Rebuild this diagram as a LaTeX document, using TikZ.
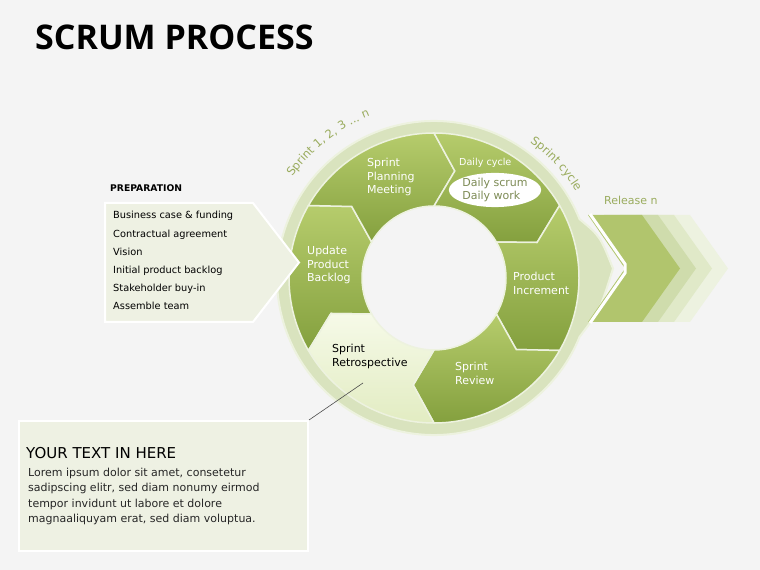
\documentclass[tikz,border=0pt]{standalone}
\usepackage{fontspec}
\setmainfont{DejaVu Sans}
\newfontfamily\titlefont{Open Sans}
\usetikzlibrary{positioning,shapes.geometric,decorations.text}

\definecolor{bgGray}{HTML}{F4F4F4}
\definecolor{ringLight}{HTML}{D9E3BE}
\definecolor{ringRim}{HTML}{EDF2DF}
\definecolor{segTop}{HTML}{B6CC6C}
\definecolor{segBot}{HTML}{84A03E}
\definecolor{retroTop}{HTML}{F6FAE8}
\definecolor{retroBot}{HTML}{E2ECC2}
\definecolor{boxFill}{HTML}{EEF1E3}
\definecolor{oliveText}{HTML}{9AAC5E}
\definecolor{dailyText}{HTML}{7D8B55}
\definecolor{chevA}{HTML}{B1C56D}
\definecolor{chevB}{HTML}{CFDCAC}
\definecolor{chevC}{HTML}{E0E9C8}
\definecolor{chevD}{HTML}{EDF2E0}

\tikzset{
  seg/.style={draw=ringRim, line width=1.5pt, top color=segTop, bottom color=segBot},
  seglabel/.style={text=white, align=left, anchor=west, inner sep=0pt, font=\fontsize{11}{13.5}\selectfont},
  prepitem/.style={anchor=west, inner sep=0pt, font=\fontsize{9.8}{12}\selectfont},
  arctext/.style={decorate, decoration={text along path, text align=center, text={|\fontsize{11.5}{13}\selectfont\color{oliveText}|#1}}}
}

\begin{document}
\begin{tikzpicture}[x=1pt,y=1pt]
  \useasboundingbox (0,0) rectangle (760,570);
  \fill[bgGray] (0,0) rectangle (760,570);

  \node[anchor=base west, inner sep=0pt, font=\titlefont\bfseries\fontsize{34}{40}\selectfont] (title) at (35,520) {SCRUM PROCESS};

  \begin{scope}[shift={(434,292)}]
    \draw[ringRim, line width=2pt, fill=ringLight] (22:157) arc[start angle=22, end angle=338, radius=157]
      .. controls (166,-32) .. (179,9.5) .. controls (166,42) .. cycle;
    \fill[bgGray] (0,0) circle[radius=72];
    \foreach \a in {210,150,90,30,-30}
      \path[seg] (\a:145) arc[start angle=\a, end angle=\a-60, radius=145] -- ({\a-71}:109)
        -- ({\a-60}:72) arc[start angle=\a-60, end angle=\a, radius=72] -- ({\a-11}:109) -- cycle;
    \path[seg, top color=retroTop, bottom color=retroBot] (-90:145) arc[start angle=-90, end angle=-150, radius=145]
      -- (-161:109) -- (-150:72) arc[start angle=-150, end angle=-90, radius=72] -- (-101:109) -- cycle;
    \path[arctext={Sprint 1, 2, 3 ... n}] (152:174) arc[start angle=152, end angle=104, radius=174];
    \path[arctext={Sprint cycle}] (62:166) arc[start angle=62, end angle=24, radius=166];
  \end{scope}

  \foreach \dx/\col in {48/chevD,32/chevC,16/chevB,0/chevA}
    \fill[\col, xshift=\dx] (588,355) -- (642,355) -- (680,301.5) -- (642,248) -- (588,248) -- (625,301.5) -- cycle;
  \draw[white, line width=3pt] (590,356) -- (625,306) -- (625,297) -- (590,247);
  \node[anchor=west, inner sep=0pt, text=oliveText, font=\fontsize{11}{13}\selectfont] (release) at (604,370) {Release n};

  \draw[white, line width=2pt, fill=boxFill] (105,367) -- (253,367) -- (299,307.5) -- (253,248) -- (105,248) -- cycle;
  \node[anchor=west, inner sep=0pt, font=\bfseries\fontsize{9.2}{11}\selectfont] (prep) at (110,382) {PREPARATION};
  \foreach \y/\txt [count=\i] in {354/Business case \& funding, 335/Contractual agreement, 318/Vision,
      299/Initial product backlog, 281/Stakeholder buy-in, 264/Assemble team}
    \node[prepitem] (prep\i) at (113,\y) {\txt};

  \node[seglabel] (planning) at (367,393) {Sprint\\Planning\\Meeting};
  \node[seglabel] (update) at (307,305) {Update\\Product\\Backlog};
  \node[seglabel] (increment) at (513,286.5) {Product\\Increment};
  \node[seglabel] (review) at (455,196.5) {Sprint\\Review};
  \node[seglabel, text=black] (retro) at (332,213.5) {Sprint\\Retrospective};
  \node[anchor=west, inner sep=0pt, text=white, font=\fontsize{9.6}{12}\selectfont] (dailycycle) at (459,407) {Daily cycle};
  \node[ellipse, fill=white, minimum width=86pt, minimum height=30pt, inner sep=0pt, align=left,
    text=dailyText, font=\fontsize{11}{13.5}\selectfont] (daily) at (495,380) {Daily scrum\\Daily work};

  \node[draw=white, line width=2pt, fill=boxFill, minimum width=289pt, minimum height=130pt, anchor=north west, inner sep=0pt] (textbox) at (18,150) {};
  \node[anchor=west, inner sep=0pt, font=\fontsize{15}{18}\selectfont] (boxtitle) at (26,117) {YOUR TEXT IN HERE};
  \node[anchor=north west, inner sep=0pt, align=left, text=black!85, font=\fontsize{11}{15.3}\selectfont] (lorem) at (28,102)
    {Lorem ipsum dolor sit amet, consetetur\\sadipscing elitr, sed diam nonumy eirmod\\tempor invidunt ut labore et dolore\\magnaaliquyam erat, sed diam voluptua.};
  \coordinate (retropt) at (363,187);
  \draw[black!70, line width=0.6pt] (textbox.north east) -- (retropt);
\end{tikzpicture}
\end{document}
